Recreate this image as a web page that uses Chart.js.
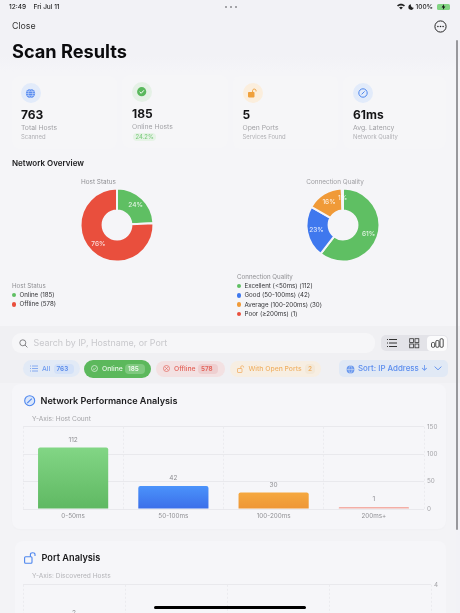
<!DOCTYPE html>
<html><head><meta charset="utf-8">
<script src="https://cdn.jsdelivr.net/npm/chart.js@4"></script>
<style>
html,body{margin:0;padding:0;width:460px;height:613px;overflow:hidden;background:#f2f2f6}
body{font-family:Inter,"Noto Sans",sans-serif;color:#111;position:relative}
.t{position:absolute;white-space:nowrap;line-height:1;transform:translateY(-50%)}
.b{position:absolute}
canvas{position:absolute;filter:blur(.3px)}
svg{position:absolute;overflow:visible}
</style></head><body>
<div id="root"></div>
<canvas id="d1" style="left:77.3px;top:185.3px;width:80px;height:80px"></canvas>
<canvas id="d2" style="left:302.5px;top:185.3px;width:80px;height:80px"></canvas>
<canvas id="bar1" style="left:22.5px;top:420px;width:428px;height:105px"></canvas>
<canvas id="bar2" style="left:22.5px;top:578px;width:428px;height:94px"></canvas>
<script>
const statValues=["763","185","5","61ms"];
const statLabels=["Total Hosts","Online Hosts","Open Ports","Avg. Latency"];
const statSubs=["Scanned","24.2%","Services Found","Network Quality"];
const hostLabels=["Online","Offline"];
const hostValues=[185,578];
const hostPct=["24%","76%"];
const qualityLabels=["Excellent (<50ms)","Good (50-100ms)","Average (100-200ms)","Poor (≥200ms)"];
const qualityValues=[112,42,30,1];
const qualityPct=["61%","23%","16%","1%"];
const latencyCats=["0-50ms","50-100ms","100-200ms","200ms+"];
const latencyValues=[112,42,30,1];
const latencyTicks=[0,50,100,150];
const portCats=["","","",""];
const portValues=[2,1,1,1];
const portTicks=[0,2,4];
const chips=["All","Online","Offline","With Open Ports"];
const chipCounts=["763","185","578","2"];
const GREEN="#5fbf63",BLUE="#3f78ee",ORANGE="#f09a38",RED="#e94f3d";

const root=document.getElementById('root');
function box(x,y,w,h,css){const d=document.createElement('div');d.className='b';d.style.cssText+=`left:${x}px;top:${y}px;width:${w}px;height:${h}px;${css||''}`;root.appendChild(d);return d;}
function txt(x,y,s,size,color,weight,extra){const d=document.createElement('div');d.className='t';d.textContent=s;d.style.cssText+=`left:${x}px;top:${y}px;font-size:${size}px;color:${color};font-weight:${weight||400};${extra||''}`;root.appendChild(d);return d;}
function svg(x,y,w,h,inner){const n=document.createElement('div');n.innerHTML=`<svg style="left:${x}px;top:${y}px" width="${w}" height="${h}" viewBox="0 0 ${w} ${h}">${inner}</svg>`;root.appendChild(n);}

// body panels
box(0,56,460,270,"background:linear-gradient(#f2f2f6,#f5f5f8 16px)");
// status bar + nav
txt(9,6.5,"12:49",6.5,"#222",500);txt(33.5,6.5,"Fri Jul 11",6.5,"#222",500);
[225,230,235].forEach(x=>box(x,5.5,2,2,"border-radius:50%;background:#8a8a8e"));
txt(415.5,6.5,"100%",6.5,"#222",500);
svg(397,3,8,7,'<path d="M0 2.5C2.3 0 5.7 0 8 2.5L6.9 3.6C5.2 2 2.8 2 1.1 3.6ZM2.1 4.6C3.2 3.5 4.8 3.5 5.9 4.6L4 6.6Z" fill="#222"/>');
svg(408,3.5,6,6,'<path d="M3 0.3A2.8 2.8 0 1 0 5.8 3.8A2.6 2.6 0 0 1 3 0.3Z" fill="#222"/>');
box(436.5,3.5,13,6,"background:#6fcf6f;border-radius:1.5px;opacity:.85");
svg(441,3.5,5,6,'<path d="M3 0L0.6 3.4H2.2L1.8 6L4.4 2.6H2.8Z" fill="#111"/>');
txt(12,26,"Close",8.8,"#333",400);
svg(434,19.5,13,13,'<circle cx="6.5" cy="6.5" r="5.6" fill="none" stroke="#222" stroke-width="1"/><circle cx="3.9" cy="6.5" r=".8" fill="#222"/><circle cx="6.5" cy="6.5" r=".8" fill="#222"/><circle cx="9.1" cy="6.5" r=".8" fill="#222"/>');
txt(12,51,"Scan Results",18.2,"#0b0b0d",700);

// stat cards
const cardX=[12,122,233,343],cardY=[76,75,76,76],cardW=[105,106,105,103];
const contentX=[21,132,242.5,353];
const iconFill=["#e2ebfa","#e5f1e6","#fbeedd","#e2ebfa"];
const iconY=[93,92,93,93];
statValues.forEach((v,i)=>{
  const dy=i==1?-1:0;
  box(cardX[i],cardY[i],cardW[i],73,"background:#f6f6f8;border-radius:7px");
  box(contentX[i],iconY[i]-10,20,20,`border-radius:50%;background:${iconFill[i]}`);
  txt(contentX[i],115+dy,v,12,"#141416",700);
  txt(contentX[i],128+dy,statLabels[i],6.8,"#a2a2a6",400);
  if(i==1){box(contentX[i]+1,133,23,8,"background:#e6f3e6;border-radius:4px");txt(contentX[i]+3.5,137,statSubs[i],5.8,"#7ccb7e",500);}
  else txt(contentX[i],137+dy,statSubs[i],5.9,"#b0b0b4",400);
});
svg(25,87.5,11,11,'<circle cx="5.5" cy="5.5" r="4.6" fill="#5b8df0"/><path d="M1 5.5H10M5.5 1C2.5 4 2.5 7 5.5 10C8.5 7 8.5 4 5.5 1M1.7 3.4H9.3M1.7 7.6H9.3" stroke="#dfe9fb" stroke-width=".5" fill="none"/>');
svg(137,87,10,10,'<circle cx="4.7" cy="4.7" r="4.6" fill="#59b85c"/><path d="M2.6 4.8L4.2 6.3L6.9 3.3" stroke="#fff" stroke-width="1" fill="none"/>');
svg(247,88,11,10,'<rect x="1" y="4" width="6.5" height="5.4" rx=".8" fill="#efa03c"/><path d="M5.6 4V2.6C5.6 .6 9 .6 9 2.6V3.4" stroke="#efa03c" stroke-width="1" fill="none"/>');
svg(358,88,10,10,'<circle cx="5" cy="5" r="4.2" fill="none" stroke="#4d86ee" stroke-width="1"/><path d="M3.6 6.4L6.6 3.4" stroke="#4d86ee" stroke-width="1"/>');

// overview
txt(12,163,"Network Overview",8,"#1a1a1c",600);
txt(81,182,"Host Status",6.4,"#8f8f93",400);
txt(306.3,182,"Connection Quality",6.4,"#9d9da1",400);
function legend(x,titleY,title,labels,values,colors){
  txt(x,titleY,title,6.2,"#8f8f93",400);
  labels.forEach((l,i)=>{const y=titleY+9.2*(i+1);
    box(x,y-2.2,4.4,4.4,`border-radius:50%;background:${colors[i]}`);
    txt(x+7.5,y,`${l} (${values[i]})`,6.2,"#333336",400);});
}
legend(12,286,"Host Status",hostLabels,hostValues,[GREEN,RED]);
legend(237,277,"Connection Quality",qualityLabels,qualityValues,[GREEN,BLUE,ORANGE,RED]);

// search + filters
box(0,326,460,57,"background:#f0f0f3");
box(12,333,363,20,"background:#f6f6f8;border-radius:9px");
svg(19,338.5,9,9,'<circle cx="3.8" cy="3.8" r="3" fill="none" stroke="#77777b" stroke-width=".9"/><path d="M6 6L8.4 8.4" stroke="#77777b" stroke-width=".9"/>');
txt(33.5,343,"Search by IP, Hostname, or Port",8.9,"#c8c8cc",400);
box(381,335,67,16,"background:#e3e3e8;border-radius:5px");
box(427,336,20,15,"background:#fbfbfc;border-radius:4px");
svg(386,338,12,10,'<path d="M3 1.5H11M3 5H11M3 8.5H11" stroke="#333" stroke-width="1"/><path d="M1 1.5H2M1 5H2M1 8.5H2" stroke="#333" stroke-width="1"/>');
svg(409,337.5,11,11,'<rect x=".7" y=".7" width="3.8" height="3.8" fill="none" stroke="#333" stroke-width=".8"/><rect x="6" y=".7" width="3.8" height="3.8" fill="none" stroke="#333" stroke-width=".8"/><rect x=".7" y="6" width="3.8" height="3.8" fill="none" stroke="#333" stroke-width=".8"/><rect x="6" y="6" width="3.8" height="3.8" fill="none" stroke="#333" stroke-width=".8"/>');
svg(431,338,13,10,'<rect x=".5" y="4.5" width="3.2" height="4.8" rx="1.2" fill="none" stroke="#222" stroke-width=".8"/><rect x="4.8" y="2.5" width="3.2" height="6.8" rx="1.2" fill="none" stroke="#222" stroke-width=".8"/><rect x="9" y=".7" width="3.2" height="8.6" rx="1.2" fill="none" stroke="#222" stroke-width=".8"/>');
const chipBox=[[23,360,57,17,"#e2eaf6"],[84,360,67,18,"#5cb85c"],[156,361,69,16,"#f3e1e2"],[230,361,91,16,"#f7eee2"]];
const chipText=[42,102,174,248.5],chipCol=["#6f9bef","#e9f7e9","#e3635a","#f0b266"];
const chipCountX=[56.5,128,201,308],chipCountBg=["#d3e1f8","#7fc97f","#eecfd0","#f3e8d8"],chipCountCol=["#5a8bea","#eef9ee","#e3635a","#f0b266"];
chips.forEach((c,i)=>{const b=chipBox[i];
  box(b[0],b[1],b[2],b[3],`background:${b[4]};border-radius:9px`);
  txt(chipText[i],368.7,c,6.8,chipCol[i],500);
  box(chipCountX[i]-3,364,(i==3?10:(chipCounts[i].length*4.7+6)),9.5,`background:${chipCountBg[i]};border-radius:4px`);
  txt(chipCountX[i],368.7,chipCounts[i],6.4,chipCountCol[i],600);
});
svg(29.5,365,8,7,'<path d="M2 1H8M2 3.5H8M2 6H8M0 1H1M0 3.5H1M0 6H1" stroke="#6f9bef" stroke-width=".8"/>');
svg(90.5,365,7,7,'<circle cx="3.5" cy="3.5" r="3" fill="none" stroke="#e9f7e9" stroke-width=".7"/><path d="M2 3.6L3.2 4.7L5 2.6" stroke="#e9f7e9" stroke-width=".7" fill="none"/>');
svg(162.7,365,7,7,'<circle cx="3.5" cy="3.5" r="3" fill="none" stroke="#e3635a" stroke-width=".7"/><path d="M2.2 2.2L4.8 4.8M4.8 2.2L2.2 4.8" stroke="#e3635a" stroke-width=".7"/>');
svg(236.5,364.5,8,8,'<rect x=".5" y="3.5" width="4.5" height="4" rx=".5" fill="none" stroke="#f0a858" stroke-width=".7"/><path d="M3.8 3.5V1.8C3.8 .4 6.6 .4 6.6 1.8V2.5" stroke="#f0a858" stroke-width=".7" fill="none"/>');
box(339,360,109,17,"background:#e1e9f5;border-radius:5px");
svg(345.5,364.5,9,9,'<circle cx="4.5" cy="4.5" r="3.9" fill="#6a98ee"/><path d="M.6 4.5H8.4M4.5 .6C2.4 3 2.4 6 4.5 8.4C6.6 6 6.6 3 4.5 .6" stroke="#e1e9f5" stroke-width=".5" fill="none"/>');
txt(358,369,"Sort: IP Address ↓",7.9,"#5b8dee",500);
svg(433.5,366,8,5,'<path d="M.6 .6L4 3.8L7.4 .6" fill="none" stroke="#5b8dee" stroke-width=".9"/>');

// chart cards
box(0,383,456,230,"background:#f3f3f6");
box(12,384,434,145,"background:#f6f6f9;border-radius:8px;box-shadow:0 1px 2px rgba(0,0,0,.015)");
box(15,541,431,90,"background:#f6f6f9;border-radius:8px");
svg(23.5,394.5,12,12,'<circle cx="5.7" cy="5.7" r="5" fill="#dbe7fb" stroke="#4d86ee" stroke-width="1.1"/><path d="M3.2 8.2L7.8 3.6" stroke="#4d86ee" stroke-width="1.1"/>');
txt(40.5,400.5,"Network Performance Analysis",9.1,"#1a1a1c",600);
txt(32,418.5,"Y-Axis: Host Count",6.6,"#a3a3a7",400);
svg(23.5,551.5,13,12,'<rect x=".6" y="4.8" width="7.4" height="6.4" rx="1" fill="none" stroke="#4d86ee" stroke-width="1.1"/><path d="M6.4 4.8V2.6C6.4 .2 11 .2 11 2.6V4" stroke="#4d86ee" stroke-width="1.1" fill="none"/>');
txt(41.5,558,"Port Analysis",9.2,"#1a1a1c",600);
txt(32,575.5,"Y-Axis: Discovered Hosts",6.6,"#b3b3b7",400);
box(456,40,2,490,"background:#98989c;border-radius:1px");
root.style.cssText="position:absolute;inset:0;filter:blur(.3px)";

// charts
function arcLabels(id,texts){return {id,afterDatasetsDraw(chart){
  const ctx=chart.ctx,meta=chart.getDatasetMeta(0);ctx.save();
  ctx.font='500 6.5px Inter';ctx.fillStyle='rgba(255,255,255,.82)';ctx.textAlign='center';ctx.textBaseline='middle';
  meta.data.forEach((a,i)=>{const mid=(a.startAngle+a.endAngle)/2,r=27;
    ctx.fillText(texts[i],a.x+Math.cos(mid)*r,a.y+Math.sin(mid)*r);});ctx.restore();}};}
function donut(id,labels,values,colors,pct){
  new Chart(document.getElementById(id),{type:'doughnut',
    data:{labels,datasets:[{data:values,backgroundColor:colors,borderColor:'#f5f5f8',borderWidth:2,hoverOffset:0}]},
    options:{responsive:false,animation:false,radius:36.5,cutout:'39.5%',
      layout:{padding:0},plugins:{legend:{display:false},tooltip:{enabled:false}}},
    plugins:[arcLabels(id+'L',pct)]});
}
function setSize(id){const c=document.getElementById(id);c.width=parseInt(c.style.width);c.height=parseInt(c.style.height);}
['d1','d2','bar1','bar2'].forEach(setSize);
donut('d1',hostLabels,hostValues,[GREEN,RED],hostPct);
donut('d2',qualityLabels,qualityValues,[GREEN,BLUE,ORANGE,RED],qualityPct);

const valueLabels={id:'valueLabels',afterDatasetsDraw(chart){
  const ctx=chart.ctx,meta=chart.getDatasetMeta(0),d=chart.data.datasets[0].data;ctx.save();
  ctx.font='6.5px Inter';ctx.fillStyle='#8e8e92';ctx.textAlign='center';ctx.textBaseline='middle';
  meta.data.forEach((b,i)=>ctx.fillText(String(d[i]),b.x,b.y-7.7));ctx.restore();}};
function barFill(stops){return c=>{
  const a=c.chart.chartArea,s=stops[c.dataIndex];
  if(!a||c.raw===undefined)return s[0];
  const y=c.chart.scales.y;
  const g=c.chart.ctx.createLinearGradient(0,y.getPixelForValue(c.raw),0,y.getPixelForValue(0));
  g.addColorStop(0,s[0]);g.addColorStop(1,s[1]);return g;};}
function barChart(id,cats,values,ticks,max,step,stops,rightW){
  new Chart(document.getElementById(id),{type:'bar',
    data:{labels:cats,datasets:[{data:values,backgroundColor:barFill(stops),borderRadius:2,borderSkipped:'bottom',minBarLength:2,categoryPercentage:1,barPercentage:.7}]},
    options:{responsive:false,animation:false,layout:{padding:{top:6,left:0,right:0,bottom:0}},
      plugins:{legend:{display:false},tooltip:{enabled:false}},
      scales:{
        x:{afterFit(s){s.height=16;},grid:{color:'#e4e4e8',drawTicks:false,tickLength:0,lineWidth:.6},border:{display:false,dash:[2,2]},
          ticks:{font:{size:6.3,family:'Inter'},color:'#909094',padding:3,maxRotation:0}},
        y:{position:'right',min:0,max,afterFit(s){s.width=rightW;},
          afterBuildTicks(s){s.ticks=ticks.map(v=>({value:v}));},
          grid:{color:'#e6e6ea',drawTicks:false,lineWidth:.8},border:{display:false},
          ticks:{font:{size:6.3,family:'Inter'},color:'#a4a4a8',padding:3,stepSize:step}}
      }},plugins:[valueLabels]});
}
const G=['#82d685','#5fb862'],B=['#4b93fb','#3b6ee9'],O=['#f5a83f','#ee9636'],R=['#f3aea6','#f09c92'];
barChart('bar1',latencyCats,latencyValues,latencyTicks,150,50,[G,B,O,R],27);
barChart('bar2',portCats,portValues,portTicks,4,2,[G,B,O,G],20);
const h=document.createElement('div');h.style.cssText="position:absolute;left:154px;top:605.5px;width:152px;height:3.5px;border-radius:2px;background:#000";document.body.appendChild(h);
</script>
</body></html>
